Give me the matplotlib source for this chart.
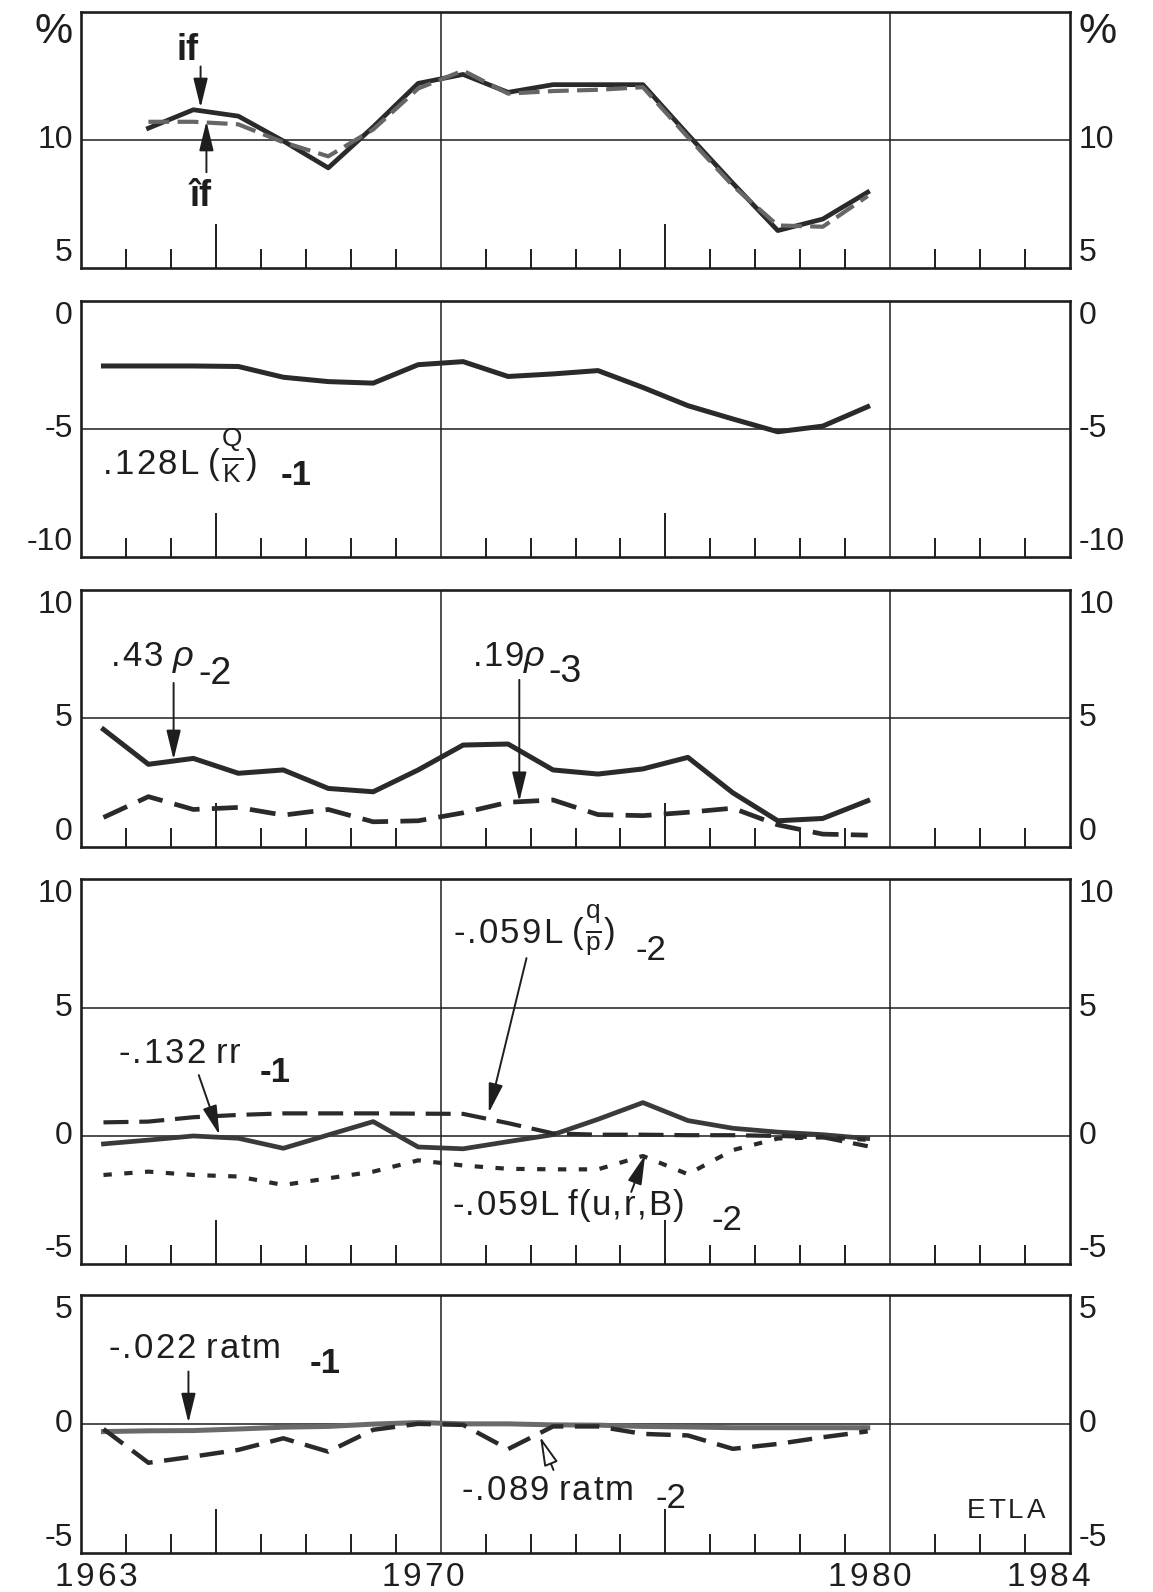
import matplotlib
matplotlib.use("Agg")
import matplotlib.pyplot as plt
import matplotlib.transforms as mtransforms
import numpy as np

plt.rcParams['font.family'] = ['Liberation Sans', 'DejaVu Sans']
plt.rcParams['mathtext.fontset'] = 'custom'
plt.rcParams['mathtext.rm'] = 'Liberation Sans'
plt.rcParams['mathtext.it'] = 'Liberation Sans:italic'
plt.rcParams['mathtext.bf'] = 'Liberation Sans:bold'
plt.rcParams['axes.unicode_minus'] = False

# ---------------- data ----------------
years = np.arange(1963, 1981)          # 1963..1980
years_if = np.arange(1964, 1981)       # 1964..1980

if_actual = [10.45, 11.17, 10.92, 9.95, 8.9, 10.5, 12.2, 12.55, 11.85, 12.15,
             12.15, 12.15, 10.2, 8.3, 6.45, 6.9, 7.95]
if_fitted = [10.7, 10.7, 10.6, 9.9, 9.35, 10.4, 12.0, 12.7, 11.8, 11.9,
             11.95, 12.05, 10.1, 8.2, 6.65, 6.6, 7.8]

qk_term = [-2.55, -2.55, -2.55, -2.57, -2.99, -3.16, -3.22, -2.5, -2.38, -2.96,
           -2.86, -2.73, -3.39, -4.1, -4.62, -5.12, -4.9, -4.14]

rho2_term = [4.57, 3.21, 3.44, 2.86, 2.99, 2.27, 2.14, 2.99, 3.96, 4.0,
             2.99, 2.83, 3.03, 3.48, 2.1, 1.01, 1.1, 1.79]
rho3_term = [1.14, 1.95, 1.45, 1.53, 1.23, 1.45, 0.97, 1.01, 1.32, 1.73,
             1.82, 1.25, 1.21, 1.34, 1.5, 0.85, 0.49, 0.45]

rr_term = [-0.31, -0.16, 0.0, -0.09, -0.48, 0.04, 0.56, -0.43, -0.5, -0.22,
           0.05, 0.65, 1.3, 0.6, 0.3, 0.15, 0.05, -0.1]
qp_term = [0.53, 0.56, 0.73, 0.82, 0.88, 0.88, 0.88, 0.87, 0.86, 0.5,
           0.1, 0.05, 0.05, 0.03, 0.03, 0.0, -0.05, -0.4]
furb_term = [-1.52, -1.39, -1.52, -1.58, -1.91, -1.65, -1.39, -0.95, -1.15, -1.28,
             -1.3, -1.3, -0.78, -1.49, -0.55, -0.1, -0.05, -0.15]

ratm1_term = [-0.3, -0.27, -0.26, -0.2, -0.13, -0.1, -0.01, 0.05, 0.0, 0.0,
              -0.04, -0.05, -0.1, -0.12, -0.15, -0.15, -0.15, -0.15]
ratm2_term = [-0.2, -1.51, -1.27, -1.01, -0.56, -1.08, -0.23, 0.0, -0.04, -0.98,
              -0.1, -0.1, -0.39, -0.45, -0.97, -0.78, -0.52, -0.29]

year_labels = ['1963', '1970', '1980', '1984']
year_label_pos = [1962.83, 1970.1, 1980.04, 1984.02]

panel_ylims = [(5, 15), (-10, 0), (0, 10), (-5, 10), (-5, 5)]
panel_yticks = [[15, 10, 5], [0, -5, -10], [10, 5, 0], [10, 5, 0, -5], [5, 0, -5]]
panel_yticklabels = [['%', '10', '5'], ['0', '-5', '-10'], ['10', '5', '0'],
                     ['10', '5', '0', '-5'], ['5', '0', '-5']]
panel_hgrid = [[10], [-5], [5], [5, 0], [0]]

# ---------------- layout ----------------
W, H = 1153, 1592
fig = plt.figure(figsize=(W / 100, H / 100), dpi=100)
renderer = fig.canvas.get_renderer()
left_px, right_px = 81, 1070
panel_px = [(11.7, 267.7), (300.7, 556.7), (590, 846.7), (879.3, 1264.3), (1295, 1552.7)]
axes = []
for top, bot in panel_px:
    ax = fig.add_axes([left_px / W, 1 - bot / H, (right_px - left_px) / W, (bot - top) / H])
    axes.append(ax)

INK = '#1e1e1e'
TICKFS = 23
ANNFS = 25

for i, ax in enumerate(axes):
    ax.set_xlim(1962.5, 1984.5)
    ax.set_ylim(*panel_ylims[i])
    for s in ax.spines.values():
        s.set_linewidth(1.9)
        s.set_color(INK)
    for g in panel_hgrid[i]:
        ax.axhline(g, color=INK, lw=1.1, zorder=1)
    for g in (1970.5, 1980.5):
        ax.axvline(g, color=INK, lw=1.1, zorder=1)
    ax.set_xticks([1965.5, 1975.5])
    ax.set_xticks([y + 0.5 for y in range(1963, 1984) if y not in (1965, 1975, 1970, 1980)], minor=True)
    ax.tick_params(axis='x', which='major', direction='in', length=32, width=1.4,
                   color=INK, labelbottom=False, bottom=True, top=False)
    ax.tick_params(axis='x', which='minor', direction='in', length=13.5, width=1.4,
                   color=INK, labelbottom=False, bottom=True, top=False)
    ax.set_yticks(panel_yticks[i])
    ax.set_yticklabels(panel_yticklabels[i])
    ax.tick_params(axis='y', which='both', length=0, labelsize=TICKFS, pad=6,
                   left=False, right=False, labelleft=True, labelright=True,
                   labelcolor=INK)
    ylo, yhi = panel_ylims[i]
    for t, v, lab in zip(ax.yaxis.get_major_ticks(), panel_yticks[i], panel_yticklabels[i]):
        va = 'center'
        if v == yhi:
            va = 'top'
        elif v == ylo:
            va = 'bottom'
        t.label1.set_va(va)
        t.label2.set_va(va)
        if lab == '%':
            t.label1.set_fontsize(TICKFS + 8)
            t.label2.set_fontsize(TICKFS + 8)

ARROW = dict(arrowstyle='-|>,head_length=0.9,head_width=0.22', color=INK, lw=1.4,
             shrinkA=0, shrinkB=0, mutation_scale=20)


def arrow(ax, start, tip, **extra):
    props = dict(ARROW)
    props.update(extra)
    ax.annotate('', xy=tip, xytext=start, arrowprops=props, zorder=5)


def spaced(ax, x, y, parts, fs=ANNFS, gap=2, transform=None):
    """Draw text pieces one after another with a little extra letter spacing (pixels).
    A part is a string or a tuple (string, dy_pixels, fontsize, text_kwargs)."""
    base = ax.transData if transform is None else transform
    dx = 0.0
    for p in parts:
        if isinstance(p, tuple):
            s, dy, pfs, pkw = p
        else:
            s, dy, pfs, pkw = p, 0.0, fs, {}
        if s == ' ':
            dx += fs * 0.3
            continue
        tr = mtransforms.offset_copy(base, fig=fig, x=dx, y=dy, units='dots')
        t = ax.text(x, y, s, transform=tr, fontsize=pfs, color=INK, va='baseline',
                    ha='left', clip_on=False, **pkw)
        dx += t.get_window_extent(renderer).width + gap
    return dx


def chars(s):
    return list(s)


def sub(ax, x, y, s, fs=ANNFS, **kw):
    ax.text(x, y, s, fontsize=fs, color=INK, va='baseline', ha='left', **kw)


# year labels below the bottom panel (centered, slightly letter-spaced)
axb = axes[4]
ytr = mtransforms.blended_transform_factory(axb.transData, axb.transAxes)
for pos, lab in zip(year_label_pos, year_labels):
    tmp = axb.text(0, 0, lab, fontsize=TICKFS + 1)
    w = tmp.get_window_extent(renderer).width + 3 * (len(lab) - 1)
    tmp.remove()
    tr0 = mtransforms.offset_copy(ytr, fig=fig, x=-w / 2, y=-33, units='dots')
    spaced(axb, pos, 0, chars(lab), fs=TICKFS + 1, gap=3, transform=tr0)

RHO = ('ρ', 0, ANNFS + 1, {'fontstyle': 'italic'})
FRAC_QK = (r'$\frac{\mathrm{Q}}{\mathrm{K}}$', 4, 27, {})
FRAC_QP = (r'$\frac{\mathrm{q}}{\mathrm{p}}$', 1, 27, {})

# ---- panel 1 ----
ax = axes[0]
ax.plot(years_if, if_actual, color='#2a2a2a', lw=3.4, zorder=3)
ax.plot(years_if, if_fitted, color='#666666', lw=3.0, dashes=(5, 2), zorder=4)
ax.text(1964.88, 13.5, 'if', fontsize=26, fontweight='bold', color=INK, ha='center', va='center')
arrow(ax, (1965.16, 12.86), (1965.16, 11.25))
ax.text(1965.16, 7.8, 'îf', fontsize=26, fontweight='bold', color=INK, ha='center', va='center')
arrow(ax, (1965.29, 8.73), (1965.29, 10.72))

# ---- panel 2 ----
ax = axes[1]
ax.plot(years, qk_term, color='#2a2a2a', lw=3.6, zorder=3)
spaced(ax, 1962.99, -6.77, chars('.128L') + [' ', '(', FRAC_QK, ')'])
sub(ax, 1966.94, -7.2, '-1', fontweight='bold')

# ---- panel 3 ----
ax = axes[2]
ax.plot(years, rho2_term, color='#2a2a2a', lw=3.6, zorder=3)
ax.plot(years, rho3_term, color='#2a2a2a', lw=3.4, dashes=(5.5, 2.6), zorder=3)
spaced(ax, 1963.17, 7.03, chars('.43') + [' ', RHO], gap=2)
sub(ax, 1965.1, 6.32, '-2', fs=ANNFS + 2)
arrow(ax, (1964.56, 6.38), (1964.56, 3.39))
spaced(ax, 1971.22, 7.03, chars('.19') + [RHO], gap=1)
sub(ax, 1972.9, 6.4, '-3', fs=ANNFS + 2)
arrow(ax, (1972.25, 6.5), (1972.25, 1.76))

# ---- panel 4 ----
ax = axes[3]
ax.plot(years, rr_term, color='#3a3a3a', lw=3.4, zorder=3)
ax.plot(years, qp_term, color='#2a2a2a', lw=3.0, dashes=(6, 2.6), zorder=3)
ax.plot(years, furb_term, color='#2a2a2a', lw=3.0, dashes=(2.0, 3.0), zorder=3)
spaced(ax, 1970.79, 7.5, chars('-.059L') + [' ', '(', FRAC_QP, ')'])
sub(ax, 1974.84, 6.85, '-2')
arrow(ax, (1972.41, 6.93), (1971.57, 0.9))
spaced(ax, 1963.34, 2.84, chars('-.132') + [' '] + chars('rr'))
sub(ax, 1966.47, 2.11, '-1', fontweight='bold')
arrow(ax, (1965.12, 2.37), (1965.58, 0.04))
spaced(ax, 1970.76, -3.07, chars('-.059L') + [' '] + chars('f(u,r,B)'), gap=1.5)
sub(ax, 1976.52, -3.66, '-2')
arrow(ax, (1974.74, -2.18), (1975.05, -0.74))

# ---- panel 5 ----
ax = axes[4]
ax.plot(years, ratm1_term, color='#6a6a6a', lw=3.6, zorder=3)
ax.plot(years, ratm2_term, color='#2a2a2a', lw=3.2, dashes=(5.5, 2.6), zorder=3)
spaced(ax, 1963.12, 2.57, chars('-.022') + [' '] + chars('ratm'))
sub(ax, 1967.58, 1.98, '-1', fontweight='bold')
arrow(ax, (1964.89, 2.03), (1964.89, 0.04))
spaced(ax, 1970.97, -2.96, chars('-.089') + [' '] + chars('ratm'))
sub(ax, 1975.29, -3.27, '-2')
arrow(ax, (1973.01, -1.79), (1972.71, -0.49), fc='white')
spaced(ax, 1982.2, -3.66, chars('ETLA'), fs=20, gap=3)

fig.savefig('out.png', dpi=100, facecolor='white')
